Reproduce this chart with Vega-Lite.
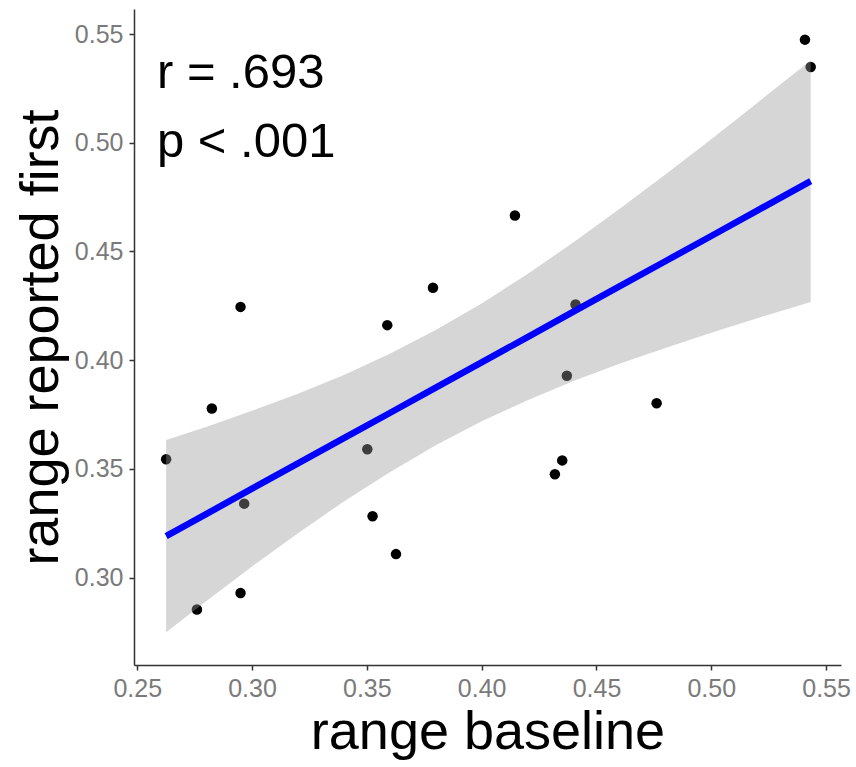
{
  "$schema": "https://vega.github.io/schema/vega-lite/v6.json",
  "width": 707,
  "height": 656,
  "autosize": "none",
  "padding": {"left": 134, "top": 9, "right": 15, "bottom": 102},
  "background": "white",
  "config": {
    "view": {"stroke": null},
    "axis": {
      "grid": false,
      "domainColor": "#333333",
      "domainWidth": 1.5,
      "tickColor": "#333333",
      "tickWidth": 1.5,
      "tickSize": 5,
      "labelColor": "#7a7a7a",
      "labelFont": "Liberation Sans",
      "labelFontSize": 25,
      "titleFont": "Liberation Sans",
      "titleFontSize": 54,
      "titleFontWeight": "normal",
      "titleColor": "black"
    }
  },
  "datasets": {
    "points": [
      {"baseline": 0.5408, "first": 0.5474},
      {"baseline": 0.5433, "first": 0.5348},
      {"baseline": 0.3788, "first": 0.4333},
      {"baseline": 0.4145, "first": 0.4665},
      {"baseline": 0.4409, "first": 0.4256},
      {"baseline": 0.2950, "first": 0.4245},
      {"baseline": 0.3589, "first": 0.4161},
      {"baseline": 0.2825, "first": 0.3778},
      {"baseline": 0.2626, "first": 0.3544},
      {"baseline": 0.3502, "first": 0.3590},
      {"baseline": 0.2966, "first": 0.3340},
      {"baseline": 0.3525, "first": 0.3282},
      {"baseline": 0.3627, "first": 0.3108},
      {"baseline": 0.2950, "first": 0.2929},
      {"baseline": 0.2760, "first": 0.2853},
      {"baseline": 0.4371, "first": 0.3928},
      {"baseline": 0.4762, "first": 0.3802},
      {"baseline": 0.4351, "first": 0.3539},
      {"baseline": 0.4319, "first": 0.3475}
    ],
    "band": [
      {"baseline": 0.2626, "fit": 0.3191, "lo": 0.2749, "hi": 0.3633},
      {"baseline": 0.28, "fit": 0.3292, "lo": 0.2891, "hi": 0.3693},
      {"baseline": 0.30, "fit": 0.3409, "lo": 0.3051, "hi": 0.3767},
      {"baseline": 0.32, "fit": 0.3525, "lo": 0.3204, "hi": 0.3846},
      {"baseline": 0.34, "fit": 0.3641, "lo": 0.3350, "hi": 0.3932},
      {"baseline": 0.36, "fit": 0.3757, "lo": 0.3485, "hi": 0.4029},
      {"baseline": 0.38, "fit": 0.3874, "lo": 0.3609, "hi": 0.4139},
      {"baseline": 0.40, "fit": 0.3990, "lo": 0.3719, "hi": 0.4261},
      {"baseline": 0.42, "fit": 0.4106, "lo": 0.3816, "hi": 0.4396},
      {"baseline": 0.44, "fit": 0.4223, "lo": 0.3904, "hi": 0.4542},
      {"baseline": 0.46, "fit": 0.4339, "lo": 0.3983, "hi": 0.4695},
      {"baseline": 0.48, "fit": 0.4455, "lo": 0.4056, "hi": 0.4854},
      {"baseline": 0.50, "fit": 0.4571, "lo": 0.4126, "hi": 0.5016},
      {"baseline": 0.52, "fit": 0.4688, "lo": 0.4193, "hi": 0.5183},
      {"baseline": 0.5433, "fit": 0.4823, "lo": 0.4268, "hi": 0.5378}
    ],
    "labels": [
      {"baseline": 0.2586, "first": 0.5253, "text": "r = .693"},
      {"baseline": 0.2586, "first": 0.4936, "text": "p < .001"}
    ]
  },
  "layer": [
    {
      "data": {"name": "points"},
      "mark": {"type": "circle", "size": 110, "color": "black", "opacity": 1},
      "encoding": {
        "x": {
          "field": "baseline", "type": "quantitative",
          "scale": {"domain": [0.2486, 0.5565], "nice": false, "zero": false},
          "axis": {"title": "range baseline", "values": [0.25, 0.30, 0.35, 0.40, 0.45, 0.50, 0.55], "format": ".2f", "labelPadding": 6, "titlePadding": 4}
        },
        "y": {
          "field": "first", "type": "quantitative",
          "scale": {"domain": [0.2598, 0.5615], "nice": false, "zero": false},
          "axis": {"title": "range reported first", "values": [0.30, 0.35, 0.40, 0.45, 0.50, 0.55], "format": ".2f", "labelPadding": 6, "titlePadding": 6}
        }
      }
    },
    {
      "data": {"name": "band"},
      "mark": {"type": "area", "color": "#999999", "opacity": 0.4},
      "encoding": {
        "x": {"field": "baseline", "type": "quantitative"},
        "y": {"field": "lo", "type": "quantitative"},
        "y2": {"field": "hi"}
      }
    },
    {
      "data": {"name": "band"},
      "mark": {"type": "line", "color": "#0000ff", "strokeWidth": 6.5},
      "encoding": {
        "x": {"field": "baseline", "type": "quantitative"},
        "y": {"field": "fit", "type": "quantitative"}
      }
    },
    {
      "data": {"name": "labels"},
      "mark": {"type": "text", "align": "left", "baseline": "alphabetic", "font": "Liberation Sans", "fontSize": 49, "color": "black"},
      "encoding": {
        "x": {"field": "baseline", "type": "quantitative"},
        "y": {"field": "first", "type": "quantitative"},
        "text": {"field": "text"}
      }
    }
  ]
}
